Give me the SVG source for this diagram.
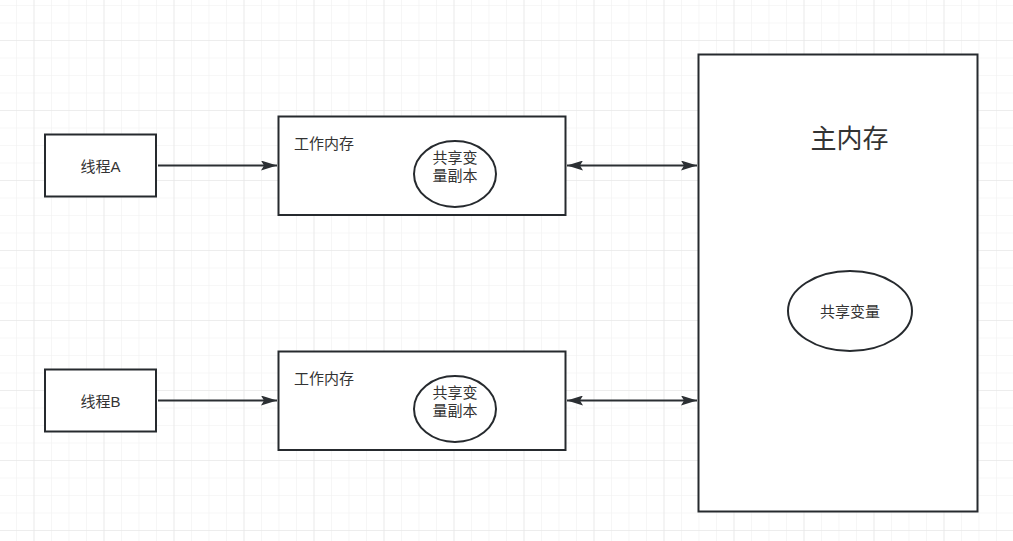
<svg xmlns="http://www.w3.org/2000/svg" width="1013" height="541" viewBox="0 0 1013 541">
<defs>
<pattern id="minor" x="-1.5" y="5" width="17.5" height="17.5" patternUnits="userSpaceOnUse">
<path d="M0 0H17.5M0 0V17.5" fill="none" stroke="#f0f0f0" stroke-width="1.2"/>
</pattern>
<pattern id="major" x="33.5" y="40" width="70" height="70" patternUnits="userSpaceOnUse">
<path d="M0 0H70M0 0V70" fill="none" stroke="#e4e4e4" stroke-width="1.2"/>
</pattern>
<marker id="ah" viewBox="0 0 16 10" refX="16" refY="5" markerWidth="16" markerHeight="10" markerUnits="userSpaceOnUse" orient="auto-start-reverse">
<path d="M0 0L16 5L0 10L3 5Z" fill="#2b2f33"/>
</marker>
<style>
.box{fill:#fff;stroke:#262a2e;stroke-width:2}
.t{font-family:"Liberation Sans","Noto Sans CJK SC",sans-serif;fill:#333;font-size:15px}
.c{text-anchor:middle;dominant-baseline:central}
.ln{stroke:#2b2f33;stroke-width:2;fill:none}
</style>
</defs>
<rect width="1013" height="541" fill="#fff"/>
<rect width="1013" height="541" fill="url(#minor)"/>
<rect width="1013" height="541" fill="url(#major)"/>
<g id="connectors">
<line class="ln" x1="158" y1="165.5" x2="277" y2="165.5" marker-end="url(#ah)"/>
<line class="ln" x1="567" y1="165.5" x2="697" y2="165.5" marker-start="url(#ah)" marker-end="url(#ah)"/>
<line class="ln" x1="158" y1="400.5" x2="277" y2="400.5" marker-end="url(#ah)"/>
<line class="ln" x1="567" y1="400.5" x2="697" y2="400.5" marker-start="url(#ah)" marker-end="url(#ah)"/>
</g>
<g id="threadA">
<rect class="box" x="45" y="134.5" width="111" height="62"/>
<text class="t c" x="100.5" y="166">线程A</text>
</g>
<g id="workA">
<rect class="box" x="278.5" y="116.5" width="287" height="98.5"/>
<text class="t" x="294" y="149">工作内存</text>
<ellipse class="box" cx="455" cy="174" rx="41" ry="33"/>
<text class="t c" x="455" y="157">共享变</text>
<text class="t c" x="455" y="175.5">量副本</text>
</g>
<g id="threadB">
<rect class="box" x="45" y="369.5" width="111" height="62"/>
<text class="t c" x="100.5" y="401">线程B</text>
</g>
<g id="workB">
<rect class="box" x="278.5" y="351.5" width="287" height="98.5"/>
<text class="t" x="294" y="384">工作内存</text>
<ellipse class="box" cx="455" cy="409" rx="41" ry="33"/>
<text class="t c" x="455" y="392">共享变</text>
<text class="t c" x="455" y="410.5">量副本</text>
</g>
<g id="mainMem">
<rect class="box" x="698.5" y="54.5" width="279" height="457"/>
<text class="t c" x="849.5" y="139" style="font-size:26px">主内存</text>
<ellipse class="box" cx="850" cy="311" rx="62" ry="40"/>
<text class="t c" x="850" y="311">共享变量</text>
</g>
</svg>
